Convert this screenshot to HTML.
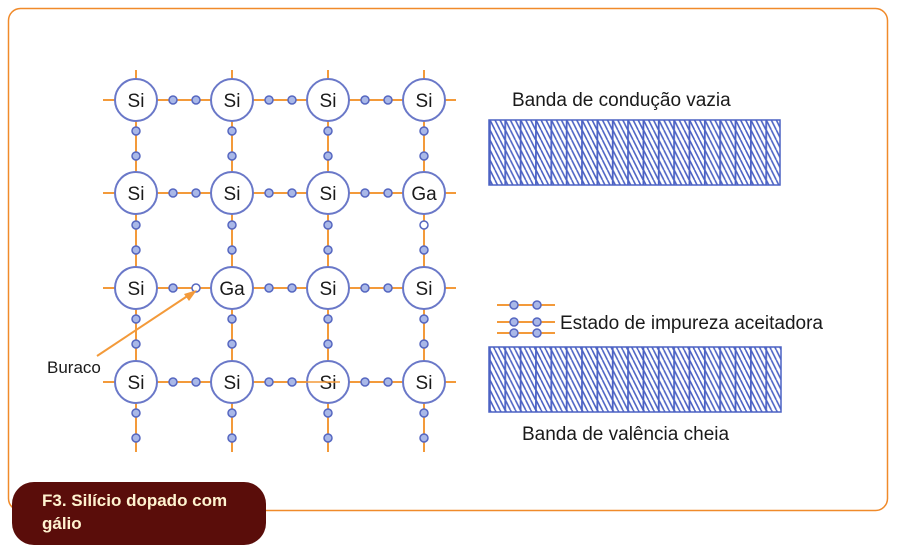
<!DOCTYPE html>
<html><head><meta charset="utf-8"><style>
html,body{margin:0;padding:0;background:#fff;}
svg{display:block;}
text{font-family:"Liberation Sans",sans-serif;}
</style></head><body>
<svg width="898" height="552" viewBox="0 0 898 552" xmlns="http://www.w3.org/2000/svg">
<defs>
<pattern id="h" patternUnits="userSpaceOnUse" x="489" y="0" width="15.35" height="10">
<rect width="15.35" height="10" fill="#fff"/>
<g stroke="#4c62c4" stroke-width="1.6">
<line x1="-4" y1="0" x2="1" y2="10"/><line x1="1" y1="0" x2="6" y2="10"/><line x1="6" y1="0" x2="11" y2="10"/><line x1="11" y1="0" x2="16" y2="10"/>
</g>
<line x1="0.9" y1="0" x2="0.9" y2="10" stroke="#4c62c4" stroke-width="1.8"/>
</pattern>
</defs>
<rect x="8.5" y="8.5" width="879" height="502" rx="12" fill="#fff" stroke="#f08a2a" stroke-width="1.5"/>
<g stroke="#f39a3a" stroke-width="2">
<line x1="103" y1="100" x2="456" y2="100"/><line x1="103" y1="193" x2="456" y2="193"/>
<line x1="103" y1="288" x2="456" y2="288"/><line x1="103" y1="382" x2="456" y2="382"/>
<line x1="136" y1="70" x2="136" y2="452"/><line x1="232" y1="70" x2="232" y2="452"/>
<line x1="328" y1="70" x2="328" y2="452"/><line x1="424" y1="70" x2="424" y2="452"/>
</g>
<g fill="#a9b8e8" stroke="#5566c0" stroke-width="1.5">
<circle cx="173" cy="100" r="4"/><circle cx="196" cy="100" r="4"/><circle cx="269" cy="100" r="4"/><circle cx="292" cy="100" r="4"/><circle cx="365" cy="100" r="4"/><circle cx="388" cy="100" r="4"/>
<circle cx="173" cy="193" r="4"/><circle cx="196" cy="193" r="4"/><circle cx="269" cy="193" r="4"/><circle cx="292" cy="193" r="4"/><circle cx="365" cy="193" r="4"/><circle cx="388" cy="193" r="4"/>
<circle cx="173" cy="288" r="4"/><circle cx="269" cy="288" r="4"/><circle cx="292" cy="288" r="4"/><circle cx="365" cy="288" r="4"/><circle cx="388" cy="288" r="4"/>
<circle cx="173" cy="382" r="4"/><circle cx="196" cy="382" r="4"/><circle cx="269" cy="382" r="4"/><circle cx="292" cy="382" r="4"/><circle cx="365" cy="382" r="4"/><circle cx="388" cy="382" r="4"/>
<circle cx="136" cy="131" r="4"/><circle cx="136" cy="156" r="4"/><circle cx="232" cy="131" r="4"/><circle cx="232" cy="156" r="4"/><circle cx="328" cy="131" r="4"/><circle cx="328" cy="156" r="4"/><circle cx="424" cy="131" r="4"/><circle cx="424" cy="156" r="4"/>
<circle cx="136" cy="225" r="4"/><circle cx="136" cy="250" r="4"/><circle cx="232" cy="225" r="4"/><circle cx="232" cy="250" r="4"/><circle cx="328" cy="225" r="4"/><circle cx="328" cy="250" r="4"/><circle cx="424" cy="250" r="4"/>
<circle cx="136" cy="319" r="4"/><circle cx="136" cy="344" r="4"/><circle cx="232" cy="319" r="4"/><circle cx="232" cy="344" r="4"/><circle cx="328" cy="319" r="4"/><circle cx="328" cy="344" r="4"/><circle cx="424" cy="319" r="4"/><circle cx="424" cy="344" r="4"/>
<circle cx="136" cy="413" r="4"/><circle cx="136" cy="438" r="4"/><circle cx="232" cy="413" r="4"/><circle cx="232" cy="438" r="4"/><circle cx="328" cy="413" r="4"/><circle cx="328" cy="438" r="4"/><circle cx="424" cy="413" r="4"/><circle cx="424" cy="438" r="4"/>
</g>
<g fill="#fff" stroke="#5566c0" stroke-width="1.5">
<circle cx="196" cy="288" r="4"/><circle cx="424" cy="225" r="4"/>
</g>
<g fill="#fff" stroke="#6a78c8" stroke-width="2">
<circle cx="136" cy="100" r="21"/><circle cx="232" cy="100" r="21"/><circle cx="328" cy="100" r="21"/><circle cx="424" cy="100" r="21"/>
<circle cx="136" cy="193" r="21"/><circle cx="232" cy="193" r="21"/><circle cx="328" cy="193" r="21"/><circle cx="424" cy="193" r="21"/>
<circle cx="136" cy="288" r="21"/><circle cx="232" cy="288" r="21"/><circle cx="328" cy="288" r="21"/><circle cx="424" cy="288" r="21"/>
<circle cx="136" cy="382" r="21"/><circle cx="232" cy="382" r="21"/><circle cx="328" cy="382" r="21"/><circle cx="424" cy="382" r="21"/>
</g>
<g font-size="19" fill="#1a1a1a" text-anchor="middle">
<text x="136" y="107">Si</text><text x="232" y="107">Si</text><text x="328" y="107">Si</text><text x="424" y="107">Si</text>
<text x="136" y="200">Si</text><text x="232" y="200">Si</text><text x="328" y="200">Si</text><text x="424" y="200">Ga</text>
<text x="136" y="295">Si</text><text x="232" y="295">Ga</text><text x="328" y="295">Si</text><text x="424" y="295">Si</text>
<text x="136" y="389">Si</text><text x="232" y="389">Si</text><text x="328" y="389">Si</text><text x="424" y="389">Si</text>
</g>
<line x1="300" y1="382" x2="340" y2="382" stroke="#f39a3a" stroke-width="1.5"/>
<line x1="97" y1="356" x2="192" y2="293" stroke="#f39a3a" stroke-width="2"/>
<polygon points="197,290 184,294 189,301" fill="#f39a3a"/>
<text x="47" y="373" font-size="17" fill="#1a1a1a">Buraco</text>
<text x="512" y="106" font-size="19" fill="#1a1a1a">Banda de condução vazia</text>
<rect x="489" y="120" width="291" height="65" fill="url(#h)" stroke="#4c62c4" stroke-width="1.5"/>
<rect x="489" y="347" width="292" height="65" fill="url(#h)" stroke="#4c62c4" stroke-width="1.5"/>
<text x="522" y="440" font-size="19" fill="#1a1a1a">Banda de valência cheia</text>
<g stroke="#f39a3a" stroke-width="2">
<line x1="497" y1="305" x2="555" y2="305"/><line x1="497" y1="322" x2="555" y2="322"/><line x1="497" y1="333" x2="555" y2="333"/>
</g>
<g fill="#a9b8e8" stroke="#5566c0" stroke-width="1.5">
<circle cx="514" cy="305" r="4"/><circle cx="537" cy="305" r="4"/>
<circle cx="514" cy="322" r="4"/><circle cx="537" cy="322" r="4"/>
<circle cx="514" cy="333" r="4"/><circle cx="537" cy="333" r="4"/>
</g>
<text x="560" y="329" font-size="19" fill="#1a1a1a">Estado de impureza aceitadora</text>
<rect x="12" y="482" width="254" height="63" rx="22" fill="#5a0d0a"/>
<text font-size="17" font-weight="bold" fill="#fff3d0"><tspan x="42" y="506">F3. Silício dopado com</tspan><tspan x="42" y="529">gálio</tspan></text>
</svg>
</body></html>
